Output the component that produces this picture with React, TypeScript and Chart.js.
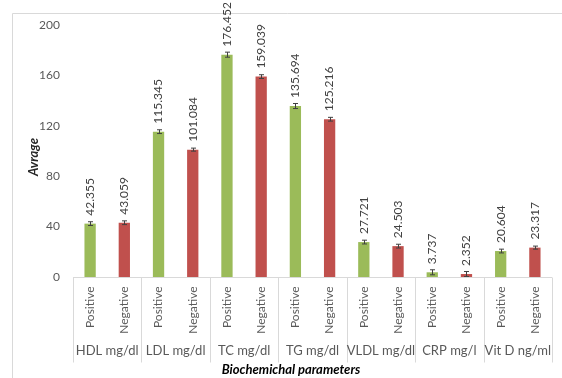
import React, { useEffect, useRef } from "react";
import { Chart, registerables } from "chart.js";

Chart.register(...registerables);

const groups = ["HDL mg/dl", "LDL mg/dl", "TC mg/dl", "TG mg/dl", "VLDL mg/dl", "CRP mg/l", "Vit D ng/ml"];
const subLabels = ["Positive", "Negative"];
const positiveValues = [42.355, 115.345, 176.452, 135.694, 27.721, 3.737, 20.604];
const negativeValues = [43.059, 101.084, 159.039, 125.216, 24.503, 2.352, 23.317];
const positiveErrors = [1.5, 1.5, 2.0, 2.0, 1.5, 2.0, 1.5];
const negativeErrors = [1.5, 1.2, 1.5, 1.5, 1.5, 2.0, 1.2];
const yTicks = [0, 40, 80, 120, 160, 200];

const GREEN = "#9BBB59";
const RED = "#C0504D";
const FONT = "Lato, 'Open Sans', sans-serif";

export default function App() {
  const ref = useRef<HTMLCanvasElement>(null);

  useEffect(() => {
    if (!ref.current) return;
    const labels: string[] = [];
    const values: number[] = [];
    const errors: number[] = [];
    const colors: string[] = [];
    groups.forEach((g, i) => {
      labels.push(subLabels[0]);
      values.push(positiveValues[i]);
      errors.push(positiveErrors[i]);
      colors.push(GREEN);
      labels.push(subLabels[1]);
      values.push(negativeValues[i]);
      errors.push(negativeErrors[i]);
      colors.push(RED);
    });

    const decor = {
      id: "decor",
      beforeDraw(chart: any) {
        const ctx = chart.ctx;
        ctx.save();
        ctx.fillStyle = "#ffffff";
        ctx.fillRect(0, 0, chart.width, chart.height);
        ctx.strokeStyle = "#d9d9d9";
        ctx.lineWidth = 1;
        ctx.beginPath();
        ctx.moveTo(12.5, chart.height + 2);
        ctx.lineTo(12.5, 13.5);
        ctx.lineTo(chart.width + 2, 13.5);
        ctx.stroke();
        ctx.restore();
      },
      afterDatasetsDraw(chart: any) {
        const ctx = chart.ctx;
        const xs = chart.scales.x;
        const ys = chart.scales.y;
        const meta = chart.getDatasetMeta(0);
        const area = chart.chartArea;
        ctx.save();
        // error bars
        ctx.strokeStyle = "#404040";
        ctx.lineWidth = 1;
        meta.data.forEach((bar: any, i: number) => {
          const v = values[i];
          const e = errors[i];
          const x = Math.round(bar.x) + 0.5;
          const yt = ys.getPixelForValue(v + e);
          const yb = ys.getPixelForValue(Math.max(0, v - e));
          ctx.beginPath();
          ctx.moveTo(x, yt);
          ctx.lineTo(x, yb);
          ctx.moveTo(x - 2.5, yt);
          ctx.lineTo(x + 2.5, yt);
          ctx.moveTo(x - 2.5, yb);
          ctx.lineTo(x + 2.5, yb);
          ctx.stroke();
        });
        // data labels
        ctx.fillStyle = "#404040";
        ctx.font = "12px " + FONT;
        ctx.textAlign = "left";
        ctx.textBaseline = "middle";
        meta.data.forEach((bar: any, i: number) => {
          ctx.save();
          ctx.translate(bar.x, bar.y - 8);
          ctx.rotate(-Math.PI / 2);
          ctx.fillText(values[i].toFixed(3), 0, 0);
          ctx.restore();
        });
        // axis line and group dividers
        const bottom = Math.round(area.bottom) + 0.5;
        ctx.strokeStyle = "#d9d9d9";
        ctx.beginPath();
        ctx.moveTo(area.left, bottom);
        ctx.lineTo(area.right, bottom);
        const step = (area.right - area.left) / groups.length;
        for (let g = 0; g <= groups.length; g++) {
          const x = Math.round(area.left + g * step) + 0.5;
          ctx.moveTo(x, bottom);
          ctx.lineTo(x, bottom + 85);
        }
        ctx.stroke();
        // sub labels
        ctx.fillStyle = "#595959";
        ctx.font = "12px " + FONT;
        ctx.textAlign = "right";
        ctx.textBaseline = "middle";
        labels.forEach((lab, i) => {
          const x = xs.getPixelForValue(i);
          ctx.save();
          ctx.translate(x, bottom + 9);
          ctx.rotate(-Math.PI / 2);
          ctx.fillText(lab, 0, 0);
          ctx.restore();
        });
        // group labels
        ctx.font = "13px " + FONT;
        ctx.textAlign = "center";
        groups.forEach((g, i) => {
          const x = (xs.getPixelForValue(2 * i) + xs.getPixelForValue(2 * i + 1)) / 2;
          ctx.fillText(g, x, bottom + 73);
        });
        // axis titles
        ctx.fillStyle = "#000000";
        ctx.font = "italic bold 13px " + FONT;
        ctx.fillText("Biochemichal parameters", 291, 370);
        ctx.fillStyle = "#262626";
        ctx.save();
        ctx.translate(34, 157);
        ctx.rotate(-Math.PI / 2);
        ctx.fillText("Avrage", 0, 0);
        ctx.restore();
        ctx.restore();
      },
    };

    const chart = new Chart(ref.current, {
      type: "bar",
      data: {
        labels,
        datasets: [
          {
            label: "Avrage",
            data: values,
            backgroundColor: colors,
            borderWidth: 0,
            categoryPercentage: 1,
            barPercentage: 0.33,
          },
        ],
      },
      options: {
        responsive: false,
        animation: false,
        layout: { padding: { top: 25, right: 10, left: 0, bottom: 0 } },
        plugins: { legend: { display: false }, tooltip: { enabled: false } },
        scales: {
          x: {
            grid: { display: false, drawTicks: false },
            border: { display: false },
            ticks: { display: false },
            afterFit: (s: any) => {
              s.height = 101;
            },
          },
          y: {
            min: 0,
            max: 200,
            grid: { display: false, drawTicks: false },
            border: { display: false },
            afterBuildTicks: (s: any) => {
              s.ticks = yTicks.map((v) => ({ value: v }));
            },
            ticks: {
              padding: 13,
              color: "#595959",
              font: { family: FONT, size: 12 },
            },
            afterFit: (s: any) => {
              s.width = 73;
            },
          },
        },
      },
      plugins: [decor],
    });
    return () => chart.destroy();
  }, []);

  return (
    <div style={{ position: "fixed", left: 0, top: 0, width: 562, height: 378, background: "#fff" }}>
      <canvas ref={ref} width={562} height={378} style={{ display: "block" }} />
    </div>
  );
}
